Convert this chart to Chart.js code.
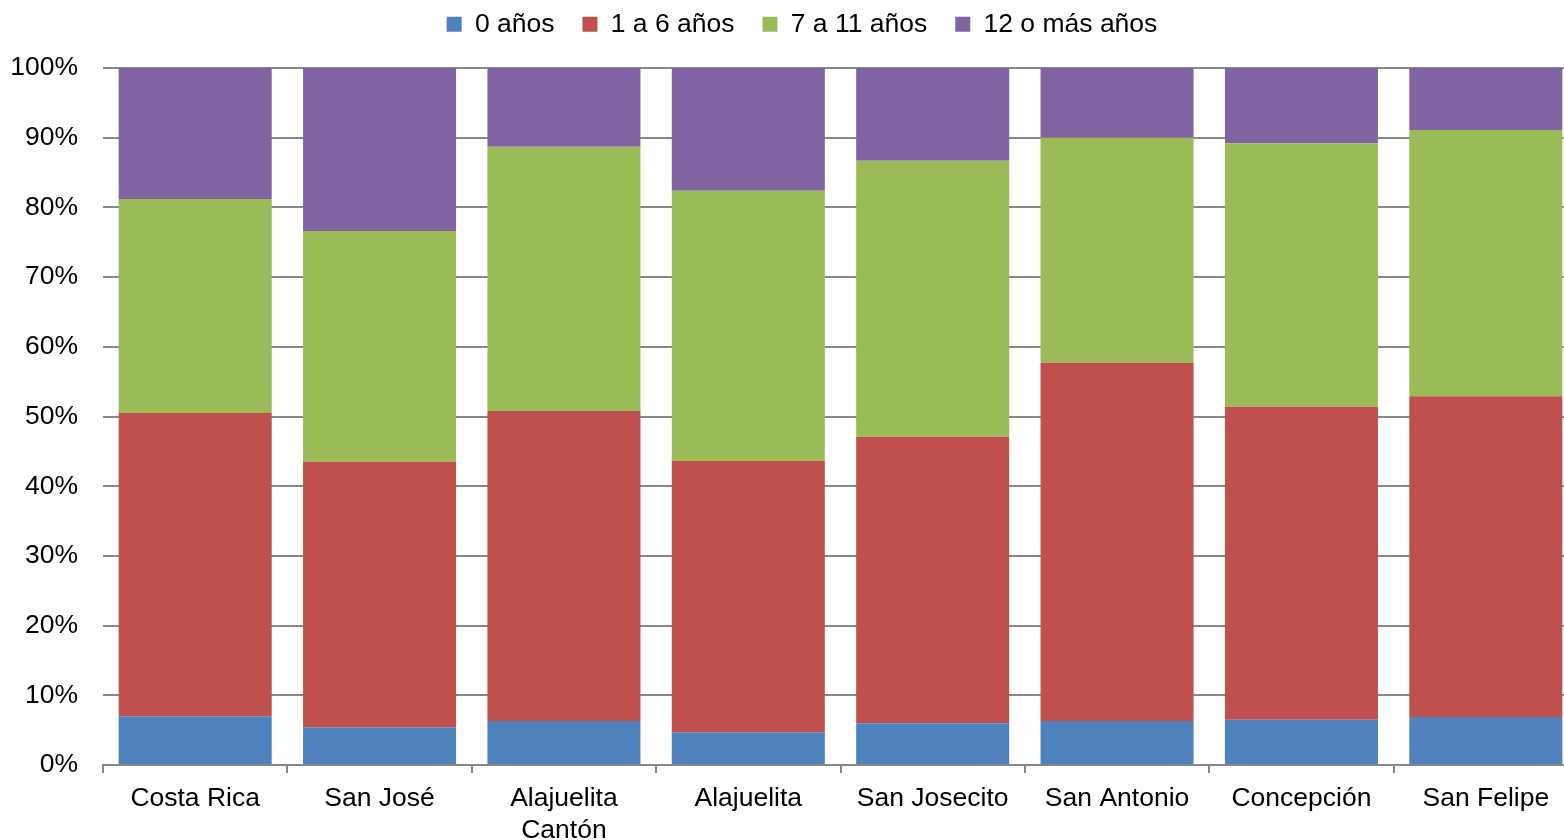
<!DOCTYPE html>
<html>
<head>
<meta charset="utf-8">
<script src="https://cdn.jsdelivr.net/npm/chart.js@4.4.0/dist/chart.umd.min.js"></script>
<style>
  html, body { margin: 0; padding: 0; background: #fff; overflow: hidden; }
  canvas { display: block; }
</style>
</head>
<body>
<!-- el lienzo es un poco más ancho que la ventana: en el original el área del gráfico se corta a la derecha -->
<canvas id="grafico" width="1578" height="840"></canvas>
<script>
// Datos (porcentajes por grupo de años)
const categorias = ['Costa Rica', 'San José', ['Alajuelita', 'Cantón'], 'Alajuelita', 'San Josecito', 'San Antonio', 'Concepción', 'San Felipe'];
const anios0 = [7.0, 5.4, 6.3, 4.7, 6.0, 6.3, 6.5, 6.9];
const anios1a6 = [43.5, 38.1, 44.5, 38.9, 41.1, 51.4, 44.9, 46.0];
const anios7a11 = [30.7, 33.1, 37.9, 38.8, 39.6, 32.3, 37.8, 38.2];
const anios12mas = [18.8, 23.4, 11.3, 17.6, 13.3, 10.0, 10.8, 8.9];
const ticksY = [0, 10, 20, 30, 40, 50, 60, 70, 80, 90, 100];

const fuente = { family: '"Liberation Sans", Arial, sans-serif', size: 26.5 };

// Plugin para fijar la altura de la leyenda y desplazarla un poco
const ajusteLeyenda = {
    id: 'ajusteLeyenda',
    beforeInit(chart) {
        const fitOriginal = chart.legend.fit;
        chart.legend.fit = function() {
            fitOriginal.bind(chart.legend)();
            this.height = 85;
        };
    },
    afterLayout(chart) {
        chart.legend.left += 13;
        chart.legend.right += 13;
    }
};

function serie(label, data, color) {
    return {
        label: label,
        data: data,
        backgroundColor: color,
        borderWidth: 0,
        categoryPercentage: 1.0,
        barPercentage: 0.83
    };
}

new Chart(document.getElementById('grafico').getContext('2d'), {
    type: 'bar',
    data: {
        labels: categorias,
        datasets: [
            serie('0 años', anios0, '#4F81BD'),
            serie('1 a 6 años', anios1a6, '#C0504D'),
            serie('7 a 11 años', anios7a11, '#9BBB59'),
            serie('12 o más años', anios12mas, '#8064A2')
        ]
    },
    options: {
        responsive: false,
        animation: false,
        layout: { padding: { left: 0, right: 0, top: -17, bottom: 0 } },
        scales: {
            x: {
                stacked: true,
                afterFit: function(scale) { scale.height = 75; },
                grid: {
                    offset: true,
                    drawOnChartArea: false,
                    drawTicks: true,
                    tickLength: 8,
                    color: '#888888',
                    lineWidth: 2
                },
                border: { display: true, color: '#888888', width: 2 },
                ticks: {
                    color: '#000',
                    font: fuente,
                    padding: 10,
                    maxRotation: 0,
                    autoSkip: false
                }
            },
            y: {
                stacked: true,
                min: 0,
                max: 100,
                afterFit: function(scale) { scale.width = 103; },
                afterBuildTicks: function(scale) {
                    scale.ticks = ticksY.map(v => ({ value: v }));
                },
                grid: {
                    color: '#888888',
                    lineWidth: 2,
                    drawTicks: false
                },
                border: { display: false },
                ticks: {
                    color: '#000',
                    font: fuente,
                    padding: 25,
                    callback: function(value) { return value + '%'; }
                }
            }
        },
        plugins: {
            legend: {
                position: 'top',
                labels: {
                    color: '#000',
                    font: fuente,
                    boxWidth: 15,
                    boxHeight: 15,
                    padding: 28
                }
            },
            tooltip: { enabled: false }
        }
    },
    plugins: [ajusteLeyenda]
});
</script>
</body>
</html>
